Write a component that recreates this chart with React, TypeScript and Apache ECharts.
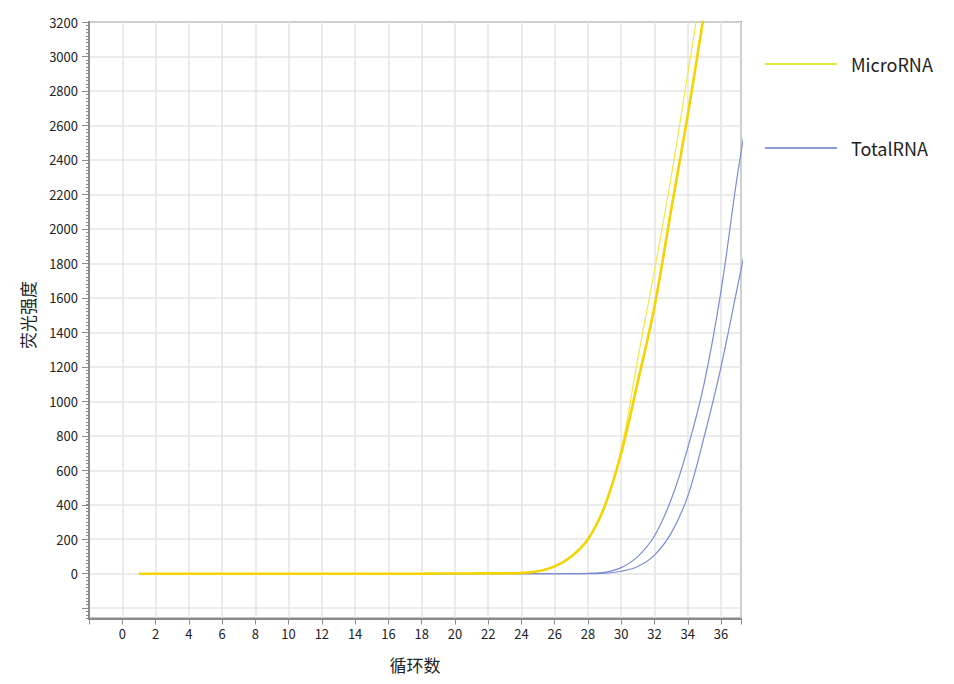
import React, { useEffect, useRef } from "react";
import * as echarts from "echarts";

const cycles = [1, 2, 3, 4, 5, 6, 7, 8, 9, 10, 11, 12, 13, 14, 15, 16, 17, 18, 19, 20, 21, 22, 23, 24, 25, 26, 27, 28, 29, 30, 31, 32, 33, 34, 35, 36, 37, 38];

const microMain = [0, 0, 0, 0, 0, 0, 0, 0, 0, 0, 0, 0, 0, 0, 0, 0, 0, 0, 1, 1, 1, 2, 2, 4, 14, 42, 100, 200, 390, 700, 1115, 1550, 2110, 2660, 3260, 3850, 4450, 5050];
const microAlt = [0, 0, 0, 0, 0, 0, 0, 0, 0, 0, 0, 0, 0, 0, 0, 0, 0, 0, 1, 1, 1, 2, 2, 4, 14, 42, 100, 200, 395, 720, 1250, 1760, 2300, 2900, 3500, 4100, 4700, 5300];
const totalA = [0, 0, 0, 0, 0, 0, 0, 0, 0, 0, 0, 0, 0, 0, 0, 0, 0, 0, 0, 0, 0, 0, 0, 0, 0, 0, 0, 2, 8, 35, 100, 220, 430, 730, 1110, 1640, 2320, 2900];
const totalB = [0, 0, 0, 0, 0, 0, 0, 0, 0, 0, 0, 0, 0, 0, 0, 0, 0, 0, 0, 0, 0, 0, 0, 0, 0, 0, 0, 0, 3, 14, 42, 108, 235, 450, 800, 1200, 1670, 2130];

const seriesNames = ["MicroRNA", "TotalRNA"];
const xTitle = "循环数";
const yTitle = "荧光强度";

const FONT = "'Noto Sans CJK SC', 'Noto Sans', sans-serif";

function pairs(vals: number[]) {
  return cycles.map((c, i) => [c, vals[i]]);
}

export default function App() {
  const ref = useRef<HTMLDivElement>(null);
  useEffect(() => {
    if (!ref.current) return;
    const chart = echarts.init(ref.current, null, { renderer: "svg" });
    const axisGray = "#8a8a8a";
    const gridLine = "#e4e4e4";
    const lineSeries = (name: string, vals: number[], color: string, width: number, z: number, legendColor: string) => ({
      name,
      type: "line",
      xAxisIndex: 0,
      yAxisIndex: 0,
      data: pairs(vals),
      smooth: 0.35,
      showSymbol: false,
      symbol: "none",
      lineStyle: { color, width },
      itemStyle: { color: legendColor },
      z,
    });
    chart.setOption({
      animation: false,
      backgroundColor: "#ffffff",
      textStyle: { fontFamily: FONT },
      grid: [
        { left: 89, top: 22, right: 213, bottom: 65.5, show: true, borderColor: axisGray, borderWidth: 2, backgroundColor: "transparent" },
        { left: 89, top: 22, right: 213, bottom: 75.8, show: false },
      ],
      legend: {
        orient: "vertical",
        left: 765,
        top: 54,
        padding: 0,
        itemWidth: 72,
        itemHeight: 2,
        itemGap: 64,
        icon: "rect",
        textStyle: { fontSize: 18, color: "#222", fontFamily: FONT, lineHeight: 20, padding: [0, 0, 0, 9] },
        data: [
          { name: seriesNames[0], itemStyle: { color: "#e4e632" } },
          { name: seriesNames[1], itemStyle: { color: "#8c9ed8" } },
        ],
      },
      xAxis: [
        {
          type: "value",
          gridIndex: 0,
          min: -2,
          max: 37.2,
          interval: 2,
          name: xTitle,
          nameLocation: "middle",
          nameGap: 37,
          nameTextStyle: { fontSize: 17, color: "#222", fontFamily: FONT },
          axisLine: { show: true, onZero: false, lineStyle: { color: axisGray, width: 2 } },
          axisTick: { show: true, length: 6, lineStyle: { color: axisGray } },
          axisLabel: {
            fontSize: 13,
            color: "#222",
            margin: 8,
            fontFamily: FONT,
            formatter: (v: number) => (v < 0 || Math.abs(v - Math.round(v)) > 1e-6 ? "" : String(v)),
          },
          splitLine: { show: true, lineStyle: { color: gridLine, width: 1.5 } },
        },
        {
          type: "value",
          gridIndex: 1,
          min: -2,
          max: 37.2,
          show: false,
          splitLine: { show: false },
        },
      ],
      yAxis: [
        {
          type: "value",
          gridIndex: 0,
          min: -260,
          max: 3200,
          interval: 20,
          axisLine: { show: true, onZero: false, lineStyle: { color: axisGray, width: 2 } },
          axisTick: { show: true, length: 3, lineStyle: { color: axisGray } },
          axisLabel: { show: false },
          splitLine: { show: false },
        },
        {
          type: "value",
          gridIndex: 1,
          min: -200,
          max: 3200,
          interval: 200,
          name: yTitle,
          nameLocation: "middle",
          nameGap: 53,
          nameRotate: 90,
          nameTextStyle: { fontSize: 17, color: "#222", fontFamily: FONT },
          axisLine: { show: false, onZero: false },
          axisTick: { show: true, length: 7, lineStyle: { color: axisGray } },
          axisLabel: {
            fontSize: 13,
            color: "#222",
            margin: 11,
            fontFamily: FONT,
            formatter: (v: number) => (v < 0 ? "" : String(v)),
          },
          splitLine: { show: true, lineStyle: { color: gridLine, width: 1.5 } },
        },
      ],
      series: [
        lineSeries(seriesNames[1], totalA, "#7b8cd2", 1.2, 2, "#8c9ed8"),
        lineSeries(seriesNames[1], totalB, "#7b8cd2", 1.2, 2, "#8c9ed8"),
        lineSeries(seriesNames[0], microAlt, "#f2e845", 1.2, 3, "#e4e632"),
        lineSeries(seriesNames[0], microMain, "#f3d400", 2.6, 4, "#e4e632"),
      ],
    });
    return () => chart.dispose();
  }, []);
  return <div ref={ref} style={{ position: "fixed", left: 0, top: 0, width: 954, height: 684 }} />;
}
